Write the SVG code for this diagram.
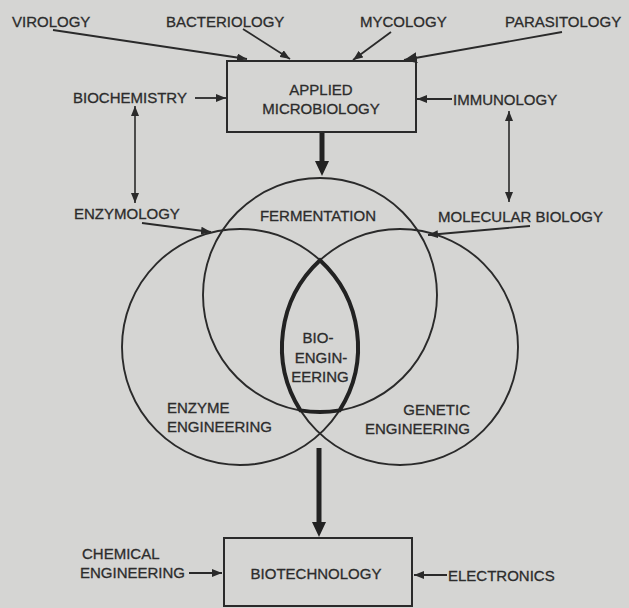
<svg xmlns="http://www.w3.org/2000/svg" width="629" height="608" viewBox="0 0 629 608">
<defs>
<style>
text{font-family:"Liberation Sans",Arial,sans-serif;font-size:15px;fill:#2c2c2c;stroke:#2c2c2c;stroke-width:0.3;}
.c{fill:none;stroke:#2a2a2a;stroke-width:1.9;}
.a{fill:none;stroke:#2a2a2a;stroke-width:1.8;marker-end:url(#ah);}
.d{fill:none;stroke:#2a2a2a;stroke-width:1.6;marker-end:url(#ah);marker-start:url(#ahs);}
.box{fill:none;stroke:#2a2a2a;stroke-width:2;}
.thick{fill:none;stroke:#222;stroke-width:5;}
.head{fill:#222;}
</style>
<marker id="ah" markerUnits="userSpaceOnUse" markerWidth="11" markerHeight="8" refX="10" refY="4" orient="auto"><path d="M0,0 L10,4 L0,8 z" fill="#2a2a2a"/></marker>
<marker id="ahs" markerUnits="userSpaceOnUse" markerWidth="11" markerHeight="8" refX="0" refY="4" orient="auto"><path d="M10,0 L0,4 L10,8 z" fill="#2a2a2a"/></marker>
<marker id="ahb" markerUnits="userSpaceOnUse" markerWidth="14" markerHeight="11" refX="13" refY="5.5" orient="auto"><path d="M0,0 L13,5.5 L0,11 z" fill="#2a2a2a"/></marker>
</defs>
<rect width="629" height="608" fill="#d5d5d3"/>

<g id="connectors">
<line class="a" x1="53" y1="30" x2="247" y2="59"/>
<line class="a" x1="243" y1="29" x2="290" y2="59"/>
<line class="a" x1="391" y1="32" x2="353" y2="60"/>
<line class="a" x1="562" y1="32" x2="404" y2="60" style="marker-end:url(#ahb)"/>
<line class="a" x1="195" y1="98" x2="226" y2="98"/>
<line class="a" x1="452" y1="99" x2="417" y2="99"/>
<line class="d" x1="135" y1="106" x2="135" y2="203"/>
<line class="d" x1="509" y1="111" x2="509" y2="202"/>
<line class="a" x1="142" y1="223" x2="211" y2="232"/>
<line class="a" x1="530" y1="226" x2="428" y2="235"/>
<line class="a" x1="189" y1="573" x2="222" y2="573"/>
<line class="a" x1="447" y1="575" x2="414" y2="575"/>
<line class="thick" x1="322" y1="132" x2="322" y2="163"/>
<polygon class="head" points="315,161 329,161 322,176"/>
<line class="thick" x1="319" y1="448" x2="319" y2="524"/>
<polygon class="head" points="312,522 326,522 319,537"/>
</g>

<g id="virology"><text x="12" y="27">VIROLOGY</text></g>
<g id="bacteriology"><text x="166" y="27">BACTERIOLOGY</text></g>
<g id="mycology"><text x="360" y="27">MYCOLOGY</text></g>
<g id="parasitology"><text x="505" y="27">PARASITOLOGY</text></g>

<g id="applied-microbiology">
<rect class="box" x="227" y="61" width="189" height="71"/>
<text x="321" y="95" text-anchor="middle">APPLIED</text>
<text x="321" y="114" text-anchor="middle">MICROBIOLOGY</text>
</g>
<g id="biochemistry"><text x="73" y="103">BIOCHEMISTRY</text></g>
<g id="immunology"><text x="453" y="105">IMMUNOLOGY</text></g>
<g id="enzymology"><text x="74" y="219">ENZYMOLOGY</text></g>
<g id="molecular-biology"><text x="438" y="222">MOLECULAR BIOLOGY</text></g>

<g id="fermentation">
<circle class="c" cx="320" cy="295" r="117"/>
<text x="318" y="221" text-anchor="middle">FERMENTATION</text>
</g>
<g id="enzyme-engineering">
<circle class="c" cx="240" cy="347" r="118"/>
<text x="167" y="413">ENZYME</text>
<text x="167" y="432">ENGINEERING</text>
</g>
<g id="genetic-engineering">
<circle class="c" cx="400" cy="347" r="118"/>
<text x="470" y="415" text-anchor="end">GENETIC</text>
<text x="470" y="434" text-anchor="end">ENGINEERING</text>
</g>
<g id="bioengineering">
<path d="M320,260.3 A118,118 0 0 0 300.4,410.4 A117,117 0 0 0 339.6,410.4 A118,118 0 0 0 320,260.3 Z" fill="none" stroke="#222" stroke-width="4"/>
<text x="318" y="343" text-anchor="middle">BIO-</text>
<text x="321" y="363" text-anchor="middle">ENGIN-</text>
<text x="320" y="382" text-anchor="middle">EERING</text>
</g>

<g id="biotechnology">
<rect class="box" x="224" y="538" width="188" height="68"/>
<text x="316" y="579" text-anchor="middle">BIOTECHNOLOGY</text>
</g>
<g id="chemical-engineering">
<text x="82" y="559">CHEMICAL</text>
<text x="80" y="578">ENGINEERING</text>
</g>
<g id="electronics"><text x="448" y="581">ELECTRONICS</text></g>
</svg>
